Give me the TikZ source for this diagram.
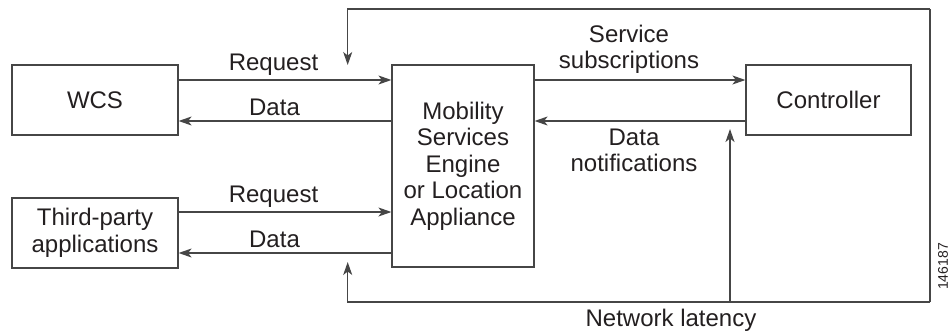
\documentclass[tikz,border=0pt]{standalone}
\usepackage{fontspec}
\setmainfont{Liberation Sans}
\usetikzlibrary{arrows.meta}
\definecolor{linec}{RGB}{70,70,70}
\definecolor{textc}{RGB}{35,31,32}
\begin{document}
\begin{tikzpicture}[x=1pt,y=-1pt,
  every node/.style={text=textc,font=\fontsize{24}{26.5}\selectfont},
  box/.style={draw=linec,line width=1.2pt,rectangle,inner sep=0pt,align=center},
  lbl/.style={inner sep=0pt,align=center},
  conn/.style={draw=linec,line width=1.2pt},
  arr/.style={conn,-{Stealth[length=13pt,width=9pt,inset=3.5pt]}}]
\useasboundingbox (0,0) rectangle (950,332);
% boxes
\node[box,minimum width=166pt,minimum height=70pt] (wcs) at (95,100) {WCS};
\node[box,minimum width=166pt,minimum height=70pt] (tpa) at (95,233) {Third-party\\applications};
\node[box,minimum width=142pt,minimum height=202pt] (mse) at (463,166) {Mobility\\Services\\Engine\\or Location\\Appliance};
\node[box,minimum width=165pt,minimum height=70pt] (ctl) at (828.5,100) {Controller};
% arrows between boxes
\draw[arr] (wcs.east |- 0,80) -- (mse.west |- 0,80);
\draw[arr] (mse.west |- 0,121) -- (wcs.east |- 0,121);
\draw[arr] (tpa.east |- 0,212) -- (mse.west |- 0,212);
\draw[arr] (mse.west |- 0,253) -- (tpa.east |- 0,253);
\draw[arr] (mse.east |- 0,80) -- (ctl.west |- 0,80);
\draw[arr] (ctl.west |- 0,121) -- (mse.east |- 0,121);
% labels
\node[lbl,anchor=base] (rq1) at (273.5,70) {Request};
\node[lbl,anchor=base] (d1) at (274.5,115) {Data};
\node[lbl,anchor=base] (rq2) at (273.5,202) {Request};
\node[lbl,anchor=base] (d2) at (274.5,247) {Data};
\node[lbl] (ss) at (629,49.4) {Service\\subscriptions};
\node[lbl] (dn) at (634,150.4) {Data\\notifications};
% feedback loop
\coordinate (tl) at (347.7,9);
\coordinate (tr) at (930,9);
\coordinate (br) at (930,302);
\coordinate (bl) at (347.7,302);
\coordinate (topend) at (347.7,65);
\coordinate (botend) at (347.7,262);
\coordinate (latb) at (730,302);
\coordinate (latt) at (730,129);
\draw[conn] (tr) -- (br);
\draw[arr] (tr) -- (tl) -- (topend);
\draw[arr] (br) -- (bl) -- (botend);
\draw[arr] (latb) -- (latt);
\node[lbl,anchor=base] (nl) at (671,326.7) {Network latency};
\node[lbl,rotate=90,font=\fontsize{14}{16}\selectfont] (id) at (943,266.5) {146187};
\end{tikzpicture}
\end{document}
